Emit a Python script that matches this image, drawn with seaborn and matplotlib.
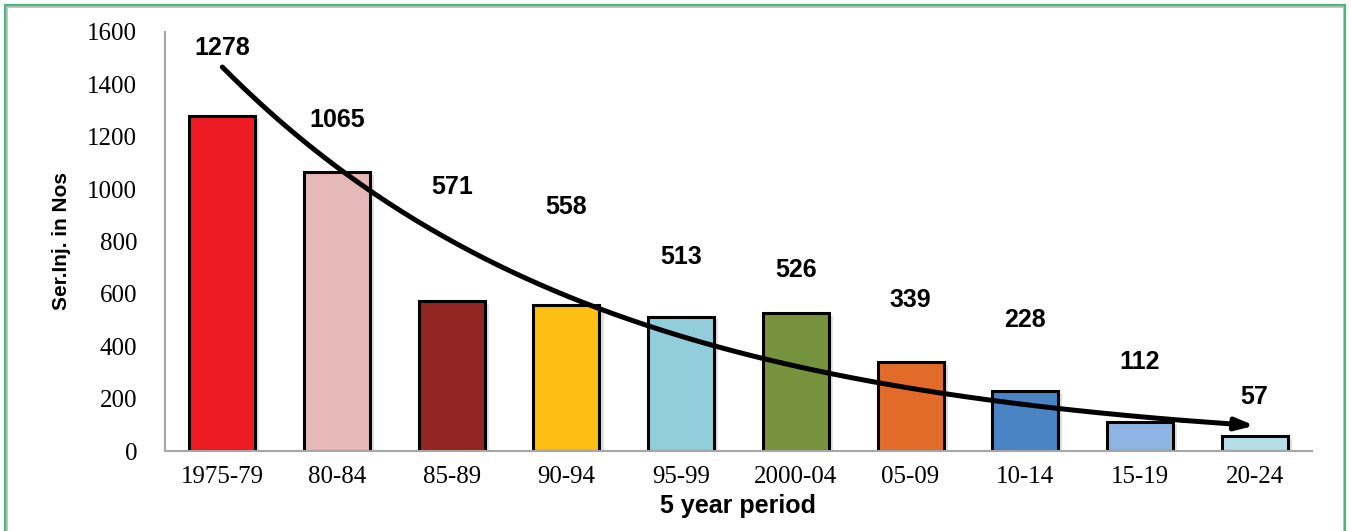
import numpy as np
import pandas as pd
import matplotlib
matplotlib.use("Agg")
import matplotlib.pyplot as plt
import matplotlib.patheffects as pe
from matplotlib.patches import Rectangle
import seaborn as sns

# Serious injuries per 5-year period
periods = ["1975-79", "80-84", "85-89", "90-94", "95-99",
           "2000-04", "05-09", "10-14", "15-19", "20-24"]
injuries = [1278, 1065, 571, 558, 513, 526, 339, 228, 112, 57]
bar_colors = ["#ED1C24", "#E6B8B7", "#922421", "#FDBF13", "#92CDDC",
              "#76923C", "#E26B2A", "#4A84C4", "#8DB4E2", "#B7DEE8"]
# heights (data units) where the value labels sit
label_heights = [1540, 1264, 1008, 932, 741, 691, 577, 500, 340, 206]
y_ticks = [0, 200, 400, 600, 800, 1000, 1200, 1400, 1600]

df = pd.DataFrame({"period": periods, "injuries": injuries})

sns.set_theme(style="white")
plt.rcParams["font.family"] = ["Liberation Serif", "DejaVu Serif"]
plt.rcParams["text.color"] = "black"
plt.rcParams["xtick.color"] = "black"
plt.rcParams["ytick.color"] = "black"
plt.rcParams["axes.labelcolor"] = "black"

SANS = ["Liberation Sans", "DejaVu Sans"]

W, H = 1351, 531
fig = plt.figure(figsize=(W / 100, H / 100), dpi=100)
ax = fig.add_axes([165 / W, 1 - 451 / H, (1312 - 165) / W, (451 - 32) / H])

sns.barplot(data=df, x="period", y="injuries", hue="period",
            palette=bar_colors, legend=False, width=0.575,
            edgecolor="black", linewidth=2.2, saturation=1, ax=ax)
for p in ax.patches:
    p.set_path_effects([pe.SimplePatchShadow(offset=(3, -2), shadow_rgbFace="#888888", alpha=0.25),
                        pe.Normal()])

ax.set_ylim(0, 1600)
ax.set_xlim(-0.5, len(periods) - 0.5)
ax.set_yticks(y_ticks)
ax.set_yticklabels([str(t) for t in y_ticks])
ax.tick_params(axis="y", length=0, pad=20, labelsize=18)
ax.tick_params(axis="x", length=0, pad=11, labelsize=18)

for s in ["top", "right"]:
    ax.spines[s].set_visible(False)
for s in ["left", "bottom"]:
    ax.spines[s].set_color("#A6A6A6")
    ax.spines[s].set_linewidth(1.5)

ax.set_xlabel("5 year period", family=SANS, fontweight="bold",
              fontsize=18, labelpad=4)
ax.set_ylabel("Ser.Inj. in Nos", family=SANS, fontweight="bold",
              fontsize=15, labelpad=12)

# value labels
for i, (v, h) in enumerate(zip(injuries, label_heights)):
    ax.text(i, h, str(v), ha="center", va="center", fontsize=18,
            fontweight="bold", family=SANS)

# exponential trend line fitted to the counts
x_idx = np.arange(1, len(injuries) + 1)
b, ln_a = np.polyfit(x_idx, np.log(injuries), 1)
xs = np.linspace(1, len(injuries), 300)
ys = np.exp(ln_a) * np.exp(b * xs)
cut = 280
ax.plot(xs[:cut] - 1, ys[:cut], color="black", lw=3.6, solid_capstyle="round", zorder=5)
ax.annotate("", xy=(xs[-1] - 1, ys[-1]), xytext=(xs[cut - 2] - 1, ys[cut - 2]),
            arrowprops=dict(arrowstyle="-|>,head_length=0.9,head_width=0.3",
                            color="black", lw=3.6, shrinkA=0, shrinkB=0),
            zorder=5)

# outer frame
fig.add_artist(Rectangle((6 / W, -0.05), (1344 - 6) / W, 1.05 - 6 / H,
                         transform=fig.transFigure, fill=False,
                         edgecolor="#BFBFBF", lw=2.0))
fig.add_artist(Rectangle((5 / W, -0.05), (1344.5 - 5) / W, 1.05 - 5 / H,
                         transform=fig.transFigure, fill=False,
                         edgecolor="#4CB67E", lw=1.6))

fig.savefig("out.png", dpi=100, facecolor="white")
